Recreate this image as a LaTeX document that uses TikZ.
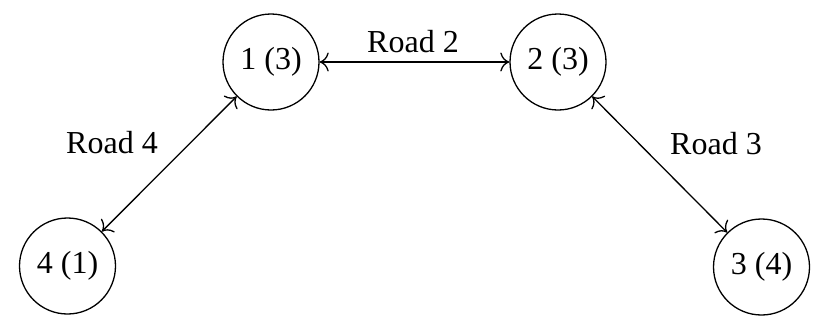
\documentclass[tikz,border=0pt]{standalone}
\usepackage{fontspec}
\setmainfont{Liberation Serif}
\usetikzlibrary{arrows.meta}
\begin{document}
\begin{tikzpicture}[x=0.5pt,y=-0.5pt,
  city/.style={circle,draw,line width=0.65pt,minimum size=48pt,inner sep=0pt,font=\fontsize{16}{18}\selectfont},
  road/.style={{To[scale=1.5]}-{To[scale=1.5]},line width=0.65pt},
  lbl/.style={font=\fontsize{16}{18}\selectfont,inner sep=0pt}]
\useasboundingbox (0,0) rectangle (822,332);
\node[city] (n1) at (271,62) {1 (3)};
\node[city] (n2) at (558,62) {2 (3)};
\node[city] (n4) at (67.5,266) {4 (1)};
\node[city] (n3) at (761.5,267) {3 (4)};
\draw[road] (n1) -- (n2);
\draw[road] (n1) -- (n4);
\draw[road] (n2) -- (n3);
\node[lbl] (l2) at (413,42) {Road 2};
\node[lbl] (l4) at (112,143) {Road 4};
\node[lbl] (l3) at (716,144) {Road 3};
\end{tikzpicture}
\end{document}
